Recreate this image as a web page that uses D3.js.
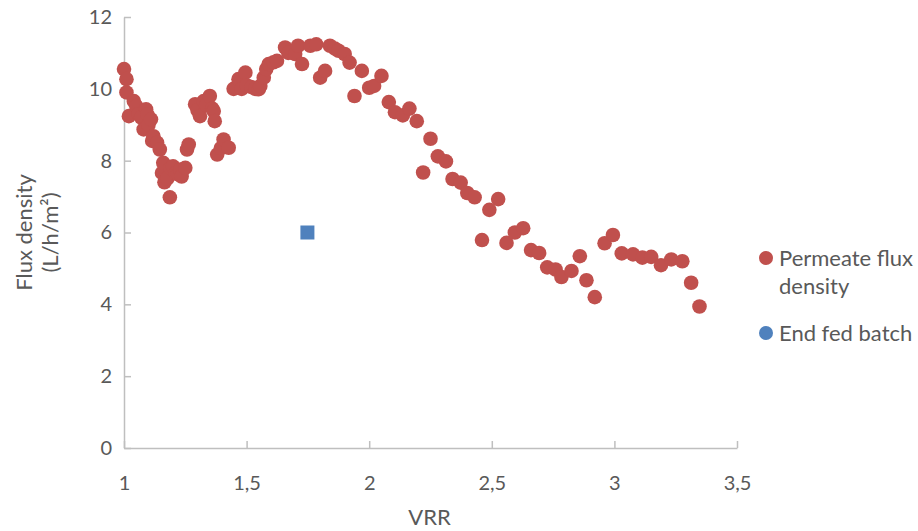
<!DOCTYPE html>
<html>
<head>
<meta charset="utf-8">
<script src="https://cdn.jsdelivr.net/npm/d3@7"></script>
<style>
  html, body { margin: 0; padding: 0; background: #fff; }
  svg { display: block; font-family: Lato, "Open Sans", sans-serif; }
</style>
</head>
<body>
<svg id="chart" width="918" height="531"></svg>
<script>
// ---- data ----
const permeateVRR = [
  1.00, 1.01, 1.01, 1.02, 1.04, 1.05, 1.06, 1.07, 1.08, 1.09,
  1.095, 1.10, 1.11, 1.115, 1.12, 1.135, 1.146, 1.155, 1.16, 1.165,
  1.176, 1.187, 1.19, 1.20, 1.21, 1.22, 1.23, 1.235, 1.25, 1.257,
  1.264, 1.29, 1.30, 1.31, 1.325, 1.335, 1.35, 1.36, 1.366, 1.37,
  1.38, 1.395, 1.406, 1.427, 1.447, 1.46, 1.467, 1.48, 1.495, 1.50,
  1.52, 1.535, 1.55, 1.556, 1.57, 1.58, 1.59, 1.61, 1.624, 1.657,
  1.67, 1.698, 1.71, 1.726, 1.76, 1.784, 1.80, 1.82, 1.84, 1.86,
  1.875, 1.90, 1.92, 1.94, 1.97, 2.00, 2.02, 2.05, 2.08, 2.105,
  2.137, 2.164, 2.194, 2.22, 2.25, 2.28, 2.313, 2.34, 2.373, 2.40,
  2.43, 2.46, 2.49, 2.526, 2.56, 2.594, 2.628, 2.66, 2.693, 2.726,
  2.76, 2.784, 2.825, 2.859, 2.886, 2.92, 2.96, 2.994, 3.03, 3.076,
  3.114, 3.15, 3.19, 3.232, 3.277, 3.313, 3.347
];
const permeateFlux = [
  10.55, 10.27, 9.90, 9.24, 9.66, 9.52, 9.30, 9.20, 8.87, 9.43,
  9.29, 9.00, 9.15, 8.55, 8.68, 8.50, 8.31, 7.66, 7.94, 7.40,
  7.50, 6.98, 7.80, 7.84, 7.65, 7.62, 7.75, 7.56, 7.80, 8.31,
  8.45, 9.57, 9.40, 9.24, 9.66, 9.55, 9.80, 9.45, 9.38, 9.10,
  8.17, 8.35, 8.59, 8.36, 10.00, 10.03, 10.27, 10.00, 10.45, 10.10,
  10.05, 10.00, 9.99, 10.08, 10.31, 10.55, 10.69, 10.74, 10.78, 11.15,
  11.00, 10.97, 11.20, 10.69, 11.20, 11.24, 10.31, 10.50, 11.20, 11.12,
  11.06, 10.97, 10.73, 9.80, 10.50, 10.03, 10.08, 10.36, 9.63, 9.35,
  9.26, 9.45, 9.10, 7.67, 8.61, 8.12, 7.98, 7.49, 7.39, 7.10,
  6.98, 5.79, 6.63, 6.93, 5.71, 6.00, 6.12, 5.51, 5.43, 5.03,
  4.97, 4.76, 4.93, 5.34, 4.67, 4.20, 5.70, 5.93, 5.42, 5.39,
  5.30, 5.32, 5.09, 5.25, 5.20, 4.60, 3.94
];
const endFedVRR = [1.748];
const endFedFlux = [6.0];
const xTicks = [1, 1.5, 2, 2.5, 3, 3.5];
const yTicks = [0, 2, 4, 6, 8, 10, 12];
const seriesNames = ["Permeate flux density", "End fed batch"];
const xTitle = "VRR";
const yTitle = ["Flux density", "(L/h/m²)"];

// ---- layout ----
const svg = d3.select("#chart");
const mLeft = 124, mRight = 737, mTop = 17, mBottom = 448;
const x = d3.scaleLinear().domain([1, 3.5]).range([mLeft, mRight]);
const y = d3.scaleLinear().domain([0, 12]).range([mBottom, mTop]);
const axisColor = "#BFBFBF";
const textColor = "#595959";
const red = "#C0504D", blue = "#4F81BD";
const fmt = d => String(d).replace(".", ",");

// x axis (ticks pointing up into plot)
const gx = svg.append("g").attr("transform", `translate(0,${mBottom})`)
  .call(d3.axisBottom(x).tickValues(xTicks).tickFormat(fmt).tickSizeInner(-7).tickSizeOuter(0).tickPadding(28));
gx.select(".domain").attr("stroke", axisColor).attr("stroke-width", 1.5);
gx.selectAll(".tick line").attr("stroke", axisColor).attr("stroke-width", 1.5);
gx.selectAll("text").attr("fill", textColor).attr("font-size", 20).attr("font-family", "Lato, sans-serif");

// y axis (ticks pointing right into plot)
const gy = svg.append("g").attr("transform", `translate(${mLeft},0)`)
  .call(d3.axisLeft(y).tickValues(yTicks).tickFormat(fmt).tickSizeInner(-7).tickSizeOuter(0).tickPadding(12));
gy.select(".domain").attr("stroke", axisColor).attr("stroke-width", 1.5);
gy.selectAll(".tick line").attr("stroke", axisColor).attr("stroke-width", 1.5);
gy.selectAll("text").attr("fill", textColor).attr("font-size", 20).attr("font-family", "Lato, sans-serif");

// axis titles
svg.append("text").attr("x", (mLeft + mRight) / 2 - 1).attr("y", 525)
  .attr("text-anchor", "middle").attr("fill", textColor).attr("font-size", 22).text(xTitle);
const yt = svg.append("text").attr("transform", `translate(0,${(mTop + mBottom) / 2}) rotate(-90)`)
  .attr("text-anchor", "middle").attr("fill", textColor).attr("font-size", 22);
yt.append("tspan").attr("x", 0).attr("y", 32).text(yTitle[0]);
yt.append("tspan").attr("x", 0).attr("y", 58).text(yTitle[1]);

// points
const permeate = permeateVRR.map((v, i) => ({ x: v, y: permeateFlux[i] }));
svg.append("g").selectAll("circle").data(permeate).join("circle")
  .attr("cx", d => x(d.x)).attr("cy", d => y(d.y)).attr("r", 7.3).attr("fill", red);

const endFed = endFedVRR.map((v, i) => ({ x: v, y: endFedFlux[i] }));
const sq = 14;
svg.append("g").selectAll("rect").data(endFed).join("rect")
  .attr("x", d => x(d.x) - sq / 2).attr("y", d => y(d.y) - sq / 2)
  .attr("width", sq).attr("height", sq).attr("fill", blue);

// legend
const lg = svg.append("g");
lg.append("circle").attr("cx", 766).attr("cy", 258).attr("r", 7).attr("fill", red);
lg.append("text").attr("x", 779).attr("y", 266).attr("fill", textColor).attr("font-size", 22).text("Permeate flux");
lg.append("text").attr("x", 779).attr("y", 294).attr("fill", textColor).attr("font-size", 22).text("density");
lg.append("circle").attr("cx", 766).attr("cy", 333).attr("r", 7).attr("fill", blue);
lg.append("text").attr("x", 779).attr("y", 341).attr("fill", textColor).attr("font-size", 22).text(seriesNames[1]);
</script>
</body>
</html>
